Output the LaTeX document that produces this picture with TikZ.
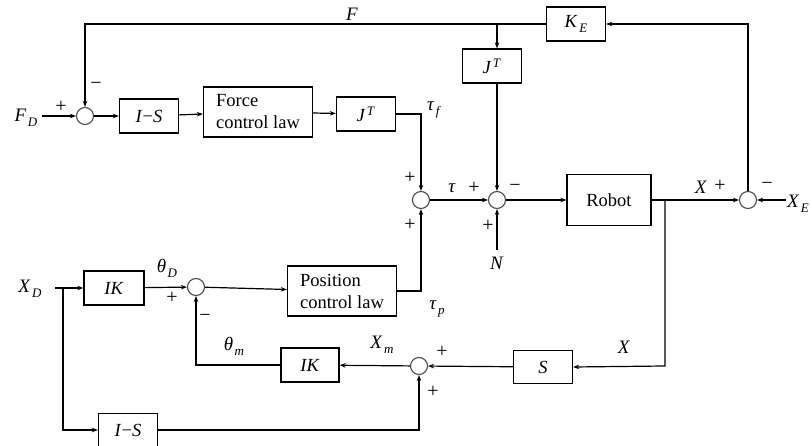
\documentclass[tikz,border=0pt]{standalone}
\usepackage{fontspec}
\setmainfont{Liberation Serif}
\usetikzlibrary{arrows.meta}
\newcommand\ti[1]{\textit{#1}}
\newcommand\sbs[2]{\textit{#1}\kern1.5pt\raisebox{-0.55ex}{\fontsize{13}{13}\selectfont\textit{#2}}}
\begin{document}
\begin{tikzpicture}[x=1pt,y=-1pt,
  blk/.style={draw,line width=1.3pt,minimum height=34pt,inner sep=0pt,font=\fontsize{18.5}{22}\selectfont,align=left},
  sum/.style={draw=black!70,circle,minimum size=17pt,inner sep=0pt,line width=1.1pt},
  arr/.style={-{Stealth[length=6pt,width=4.5pt]},line width=1.2pt},
  sg/.style={font=\fontsize{20}{20}\selectfont,inner sep=0pt},
  lb/.style={font=\fontsize{19}{19}\selectfont,inner sep=0pt}]
\useasboundingbox (0,0) rectangle (812,446);
% sums
\node[sum] (s1) at (85,116) {};
\node[sum] (s2) at (421,200) {};
\node[sum] (s3) at (497,200) {};
\node[sum] (s4) at (748,200) {};
\node[sum] (s5) at (419,366) {};
\node[sum] (s6) at (196,287) {};
% blocks
\node[blk,minimum width=59pt] (is1) at (149,116) {\ti{I}−\ti{S}};
\node[blk,minimum width=109pt,minimum height=50pt] (fcl) at (258,112) {Force\\control law};
\node[blk,minimum width=59pt] (jt1) at (366,114) {\ti{J}\kern1.5pt\textsuperscript{\ti{T}}};
\node[blk,minimum width=59pt] (ke) at (576,24) {\sbs{K}{E}};
\node[blk,minimum width=59pt] (jt2) at (492,66) {\ti{J}\kern1.5pt\textsuperscript{\ti{T}}};
\node[blk,minimum width=84pt,minimum height=51pt] (rob) at (609,200) {Robot};
\node[blk,minimum width=109pt,minimum height=50pt] (pcl) at (342,291) {Position\\control law};
\node[blk,minimum width=60pt] (ik1) at (114,288) {\ti{IK}};
\node[blk,minimum width=58pt] (ik2) at (310,365) {\ti{IK}};
\node[blk,minimum width=59pt,minimum height=33pt] (sb) at (543,367) {\ti{S}};
\node[blk,minimum width=59pt,minimum height=33pt] (is2) at (128,430) {\ti{I}−\ti{S}};
% input / output labels
\node[lb] (fd) at (26,118) {\sbs{F}{D}};
\node[lb] (xd) at (30,289) {\sbs{X}{D}};
\node[lb,anchor=west] (xe) at (787,204) {\sbs{X}{E}};
\node[lb] (nn) at (497,263) {\ti{N}};
\coordinate (fdo) at (42,116);
\coordinate (xdo) at (55,288);
\coordinate (xeo) at (786,200);
\coordinate (nno) at (497,250);
% coordinates
\coordinate (ftl) at (85,24);
\coordinate (fbr) at (497,24);
\coordinate (jtc) at (421,114);
\coordinate (pcc) at (421,291);
\coordinate (s4t) at (748,24);
\coordinate (xbr) at (665,200);
\coordinate (xbd) at (665,366);
\coordinate (ikc) at (196,365);
\coordinate (xdb) at (63,288);
\coordinate (xdd) at (63,430);
\coordinate (isc) at (419,430);
% connectors
\draw[arr] (fdo) -- (s1);
\draw[arr] (ke.west) -- (ftl) -- (s1);
\draw[arr] (fbr) -- (fbr |- jt2.north);
\draw[arr] (s1) -- (is1);
\draw[arr] (is1) -- (fcl);
\draw[arr] (fcl) -- (jt1);
\draw[arr] (jt1.east) -- (jtc) -- (s2);
\draw[arr] (pcl.east) -- (pcc) -- (s2);
\draw[arr] (s2) -- (s3);
\draw[arr] (s3 |- jt2.south) -- (s3);
\draw[arr] (nno) -- (s3);
\draw[arr] (s3) -- (rob);
\draw[arr] (rob) -- (s4);
\draw[arr] (xeo) -- (s4);
\draw[arr] (s4) -- (s4t) -- (ke.east);
\draw[arr] (xbr) -- (xbd) -- (sb.east);
\draw[arr] (sb) -- (s5);
\draw[arr] (s5) -- (ik2);
\draw[arr] (ik2.west) -- (ikc) -- (s6);
\draw[arr] (xdo) -- (ik1);
\draw[arr] (xdb) -- (xdd) -- (is2.west);
\draw[arr] (ik1) -- (s6);
\draw[arr] (s6) -- (pcl);
\draw[arr] (is2.east) -- (isc) -- (s5);
% signal labels
\node[lb] at (352,14) {\ti{F}};
\node[lb] at (434,110) {\sbs{τ}{f}};
\node[lb] at (437,309) {\sbs{τ}{p}};
\node[lb] at (452,188) {\ti{τ}};
\node[lb] at (701,187) {\ti{X}};
\node[lb] at (624,347) {\ti{X}};
\node[lb] at (382,345) {\sbs{X}{m}};
\node[lb] at (234,346) {\sbs{θ}{m}};
\node[lb] at (167,268) {\sbs{θ}{D}};
% signs
\node[sg] at (61,107) {+};
\node[sg] at (96,86) {−};
\node[sg] at (410,178) {+};
\node[sg] at (410,225) {+};
\node[sg] at (474,188) {+};
\node[sg] at (515,188) {−};
\node[sg] at (488,226) {+};
\node[sg] at (720,186) {+};
\node[sg] at (767,186) {−};
\node[sg] at (442,352) {+};
\node[sg] at (433,392) {+};
\node[sg] at (205,318) {−};
\node[sg] at (172,298) {+};
\end{tikzpicture}
\end{document}
